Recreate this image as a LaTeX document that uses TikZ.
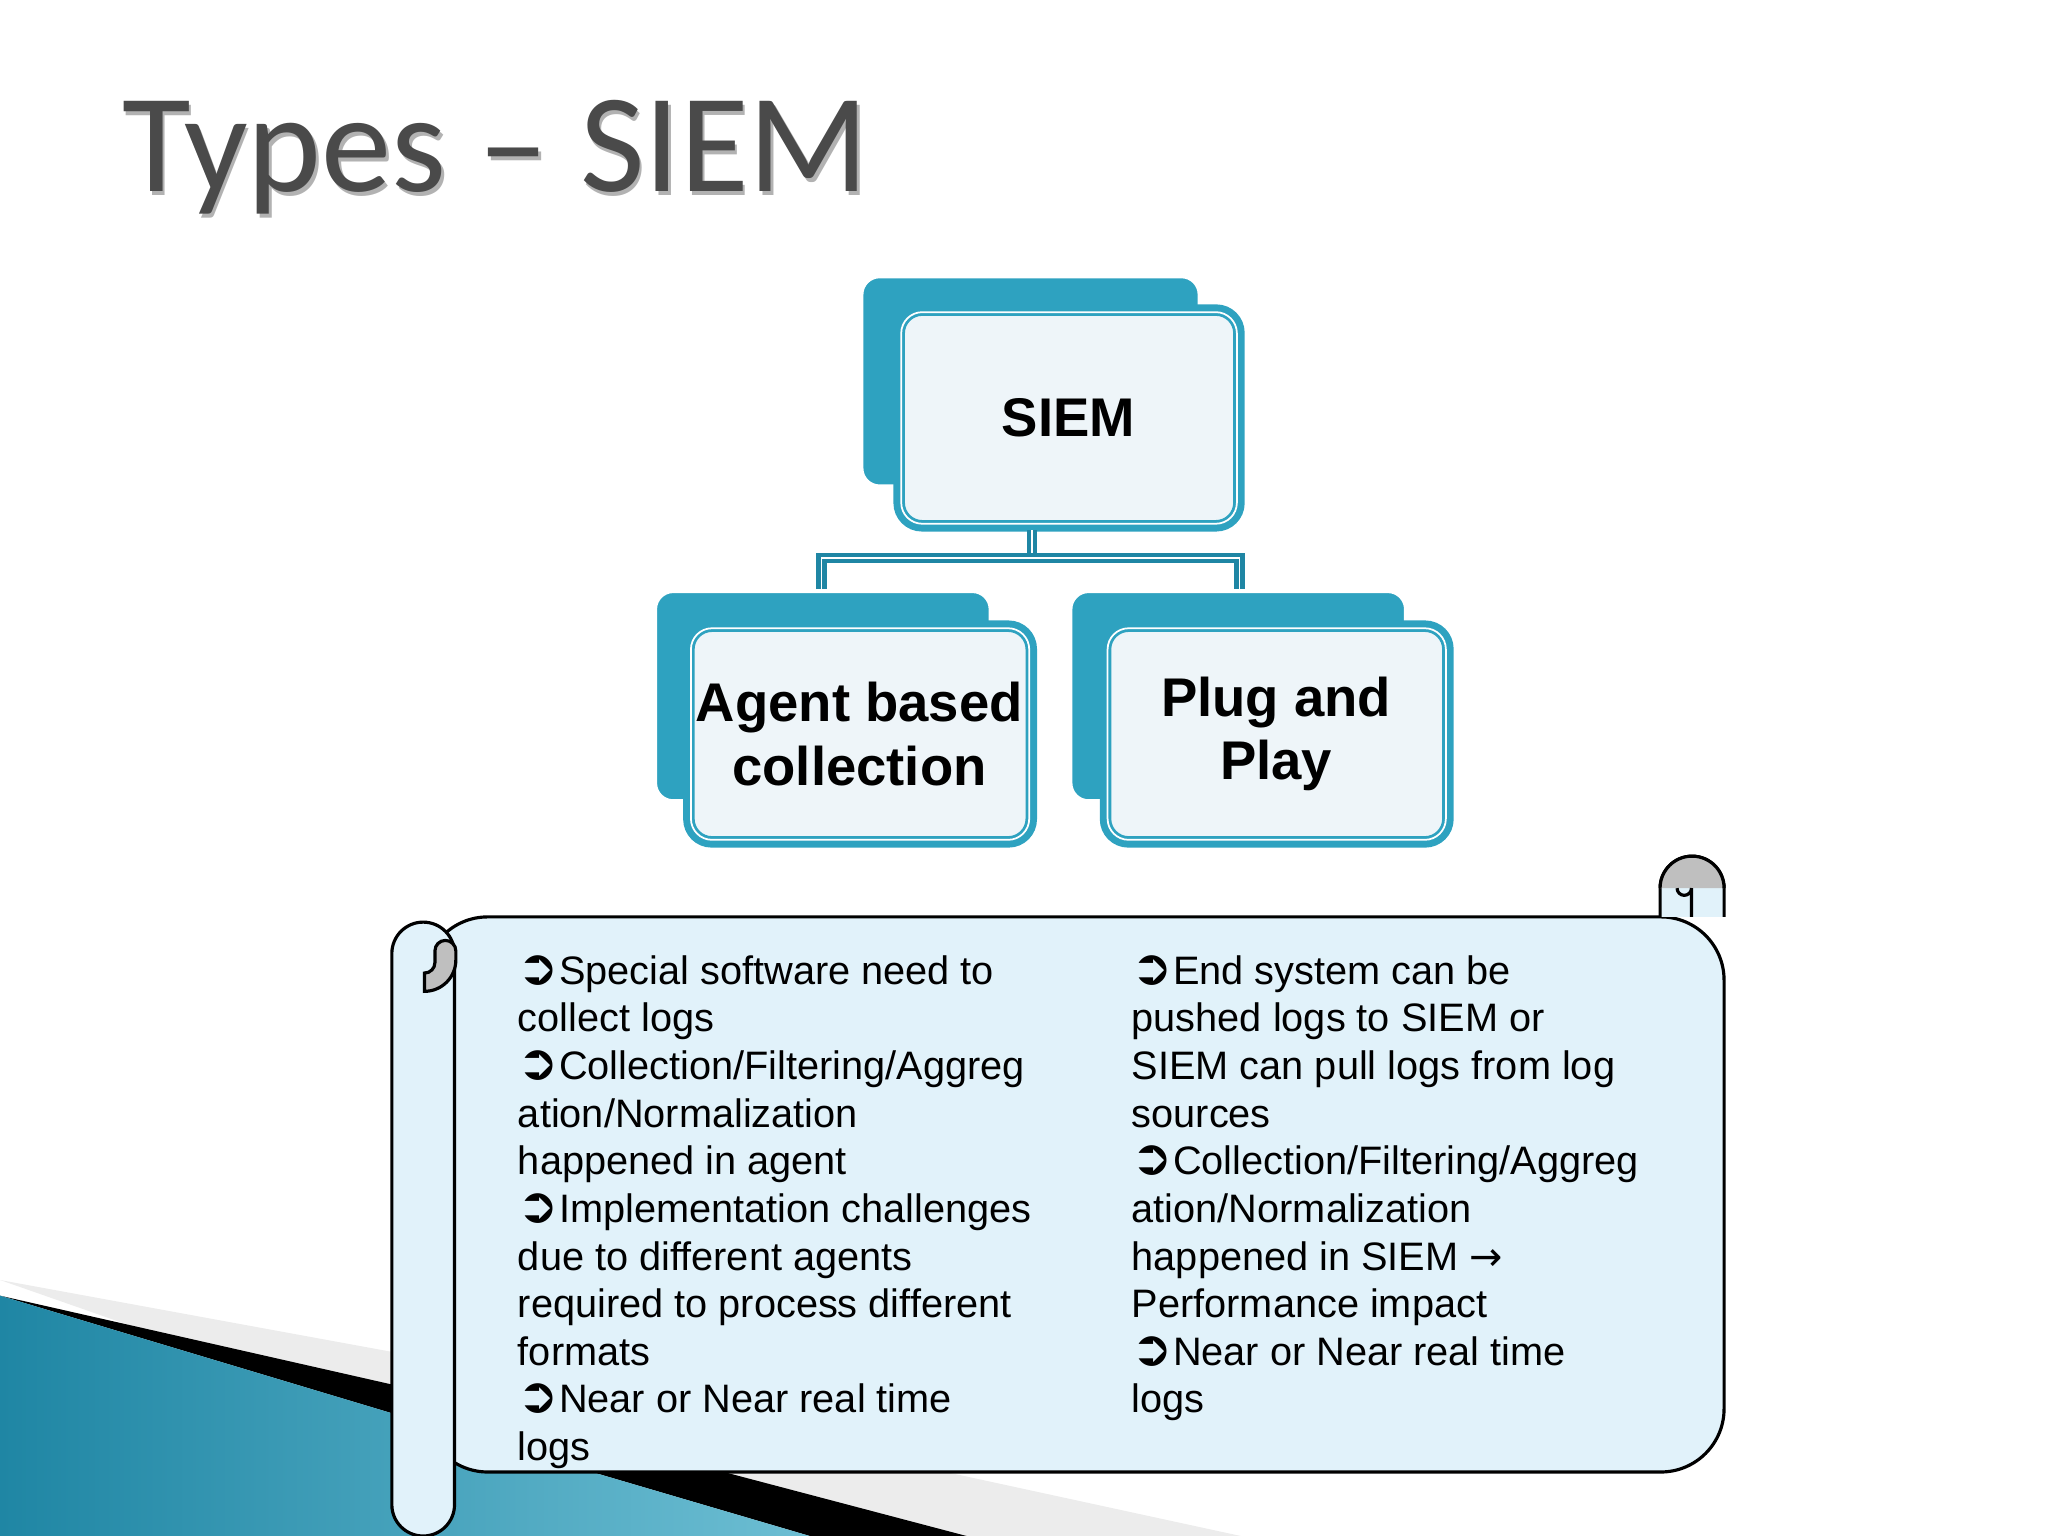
\documentclass[tikz,border=0pt]{standalone}
\usepackage{fontspec}
\setmainfont{Liberation Sans}
\newfontfamily\titlefont{Carlito}
\newfontfamily\symfont{DejaVu Sans}
\definecolor{teal1}{HTML}{2EA2C0}
\definecolor{tealdark}{HTML}{1F86A4}
\definecolor{boxfill}{HTML}{EEF5F9}
\definecolor{scroll}{HTML}{E1F2FA}
\definecolor{ttl}{HTML}{4A4A4A}
\newcommand{\bul}{{\symfont\fontsize{14}{13.55}\selectfont\char"27B2}}
\tikzset{
 backbox/.style={fill=teal1,draw=white,line width=0.8pt,rounded corners=5pt},
 frontbox/.style={fill=boxfill,draw=teal1,line width=0.8pt,rounded corners=6pt,double=white,double distance=0.5pt},
 frontouter/.style={draw=teal1,line width=2.2pt,rounded corners=7pt},
 lbl/.style={font=\fontsize{15.5}{18}\selectfont\bfseries,align=center},
 conn/.style={draw=tealdark,line width=1.2pt,double=white,double distance=0.5pt},
 body/.style={font=\fontsize{11.3}{13.55}\selectfont,align=left,anchor=north west,inner sep=0pt},
 scrollst/.style={fill=scroll,draw=black,line width=0.9pt},
 curl/.style={fill=gray!50,draw=black,line width=0.9pt}
}
\begin{document}
\begin{tikzpicture}[x=0.13061mm,y=-0.13061mm]
\useasboundingbox (0,0) rectangle (1568,1176);
% bottom-left decoration
\fill[gray!15] (0,980) -- (300,1035) -- (950,1176) -- (560,1176) -- cycle;
\fill[black] (0,992) -- (300,1060) -- (740,1176) -- (620,1176) -- (300,1082) -- cycle;
\shade[left color=tealdark,right color=teal1!70] (0,992) -- (300,1082) -- (620,1176) -- (0,1176) -- cycle;
% title
\node[font=\titlefont\fontsize{40}{42}\selectfont,text=black!30,anchor=base west,inner sep=0] at (95,150) {Types – SIEM};
\node[font=\titlefont\fontsize{40}{42}\selectfont,text=ttl,anchor=base west,inner sep=0] (title) at (93,147) {Types – SIEM};
% boxes
\draw[backbox] (660,212) rectangle (918,372);
\draw[frontouter] (687,236) rectangle (950,404);
\draw[frontbox] (690,239) rectangle (947,401);
\node[lbl] (siem) at (818,320) {SIEM};
\draw[backbox] (502,453) rectangle (758,613);
\draw[frontouter] (526,478) rectangle (791,646);
\draw[frontbox] (529,481) rectangle (788,643);
\node[lbl] (agent) at (658,562) {Agent based\\collection};
\draw[backbox] (820,453) rectangle (1076,613);
\draw[frontouter] (845,478) rectangle (1110,646);
\draw[frontbox] (848,481) rectangle (1107,643);
\node[lbl] (plug) at (977,562) {Plug and\\Play};
\coordinate (s1) at (790,406);
\coordinate (s2) at (790,427);
\coordinate (a1) at (629,427);
\coordinate (a2) at (629,451);
\coordinate (p1) at (949,427);
\coordinate (p2) at (949,451);
\draw[conn] (s1) -- (s2);
\draw[conn] (a2) -- (a1) -- (p1) -- (p2);
% scroll
\draw[scrollst,rounded corners=18pt] (325,702) -- (1320,702) -- (1320,1127) -- (325,1127) -- cycle;
\draw[scrollst] (1271,702) -- (1271,680) arc[start angle=180,end angle=360,radius=24.5] -- (1320,702);
\fill[gray!50] (1271,680) arc[start angle=180,end angle=360,radius=24.5] -- (1295,680) -- cycle;
\draw[black,line width=0.9pt] (1271,680) arc[start angle=180,end angle=360,radius=24.5];
\draw[black,line width=0.9pt] (1284,680) arc[start angle=180,end angle=0,radius=5.5] -- (1295,702);
\draw[scrollst] (300,1152) -- (300,730) arc[start angle=180,end angle=360,radius=24] -- (348,1152) arc[start angle=0,end angle=180,radius=24];
\draw[curl] (325,745) arc[start angle=90,end angle=0,radius=8] -- (333,728) arc[start angle=180,end angle=360,radius=8] -- (349,735) arc[start angle=0,end angle=90,radius=24] -- cycle;
% text
\node[body] (lt) at (396,731) {\bul Special software need to\\collect logs\\\bul Collection/Filtering/Aggreg\\ation/Normalization\\happened in agent\\\bul Implementation challenges\\due to different agents\\required to process different\\formats\\\bul Near or Near real time\\logs};
\node[body] (rt) at (866,731) {\bul End system can be\\pushed logs to SIEM or\\SIEM can pull logs from log\\sources\\\bul Collection/Filtering/Aggreg\\ation/Normalization\\happened in SIEM {\symfont →}\\Performance impact\\\bul Near or Near real time\\logs};
\end{tikzpicture}
\end{document}
